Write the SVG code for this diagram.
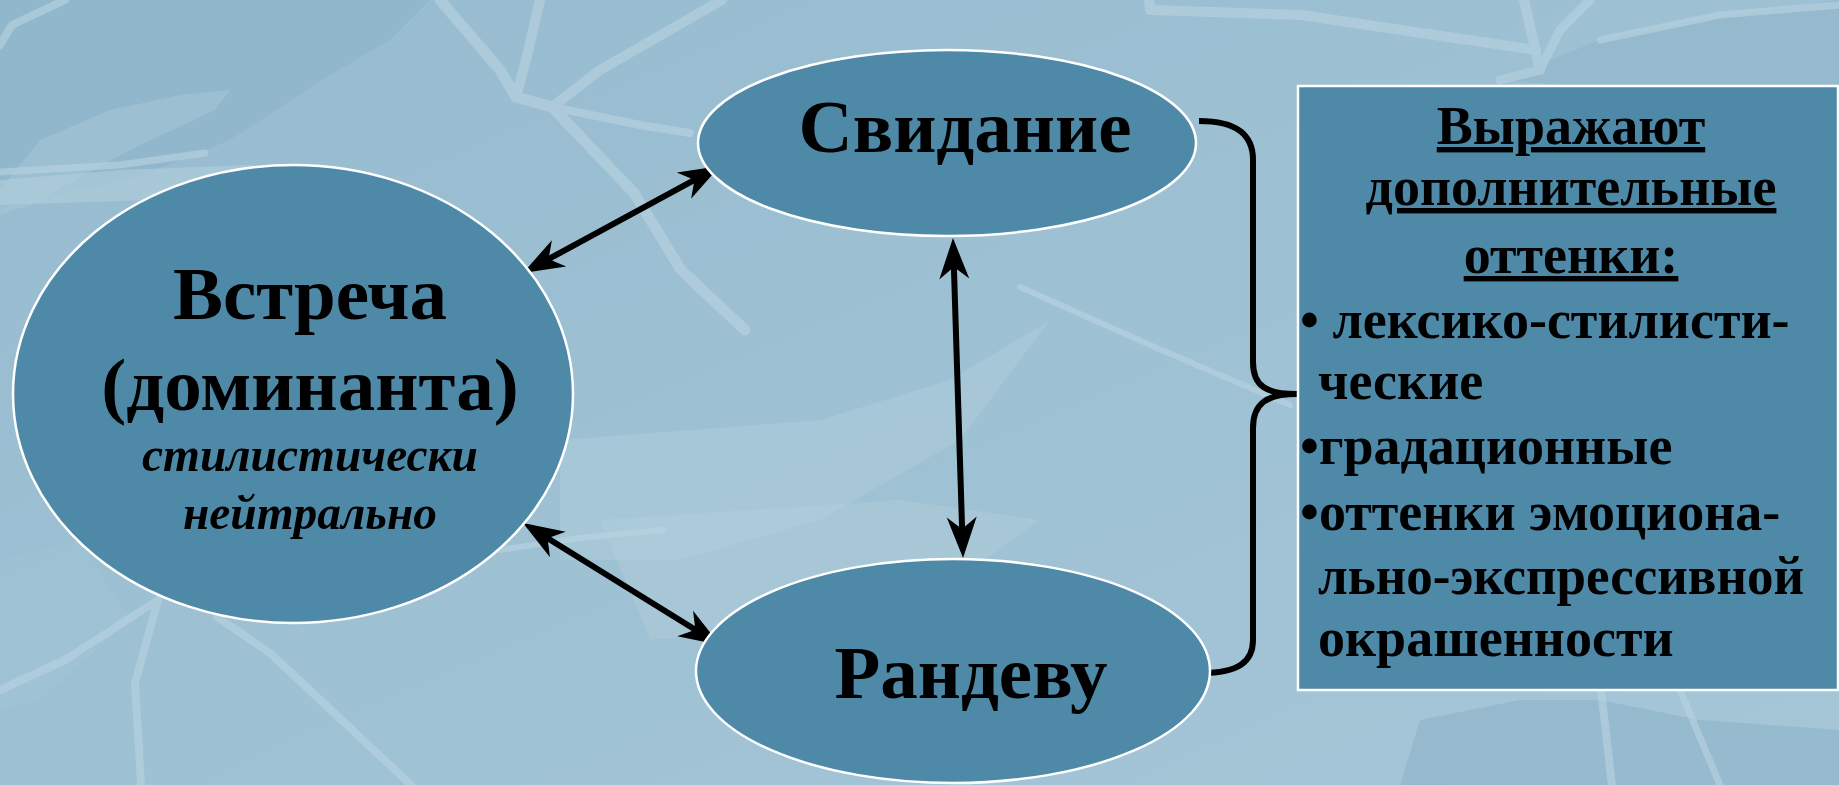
<svg xmlns="http://www.w3.org/2000/svg" width="1839" height="785" viewBox="0 0 1839 785">
<style>
.node{fill:#4f89a8;stroke:#ffffff;stroke-width:2.5}
.t{font-family:"Liberation Serif","Times New Roman",serif;font-weight:bold;fill:#000}
.big{font-size:75px}
.it{font-size:49px;font-style:italic}
.box{font-size:54px}
.conn{stroke:#000;stroke-width:6;fill:none}
.streak{fill:none;stroke:#b9d4e1;stroke-linecap:round;stroke-linejoin:round}
</style>
<defs>
<marker id="ah" markerUnits="userSpaceOnUse" viewBox="-24 -17 46 34" refX="0" refY="0" markerWidth="46" markerHeight="34" orient="auto-start-reverse">
<path d="M20,0 L-21,-15 L-9,0 L-21,15 Z" fill="#000"/>
</marker>
<linearGradient id="bg" x1="0" y1="0" x2="1" y2="1">
<stop offset="0" stop-color="#97bbcf"/>
<stop offset="0.45" stop-color="#9dc0d3"/>
<stop offset="1" stop-color="#a5c6d7"/>
</linearGradient>
</defs>
<rect x="0" y="0" width="1839" height="785" fill="url(#bg)"/>
<g id="background">
<polygon points="0,0 430,0 390,40 330,75 230,140 130,180 30,200 0,210" fill="#8fb5ca" opacity="0.7"/>
<polygon points="0,190 40,140 110,110 180,95 230,90 215,110 130,150 30,205 0,215" fill="#a8c8d8" opacity="0.5"/>
<polygon points="0,205 150,200 230,190 300,180 250,165 120,170 0,180" fill="#b0cedc" opacity="0.6"/>
<polygon points="560,440 820,420 950,380 1000,350 1050,320 960,440 820,520 680,560 560,560" fill="#afcddb" opacity="0.5"/>
<polygon points="600,520 900,500 1040,520 900,620 650,640" fill="#b3d0dd" opacity="0.4"/>
<polygon points="1500,80 1600,40 1700,20 1839,0 1839,90 1680,95" fill="#8fb5ca" opacity="0.6"/>
<polygon points="1400,785 1420,720 1520,700 1600,700 1700,720 1839,730 1839,785" fill="#8db2c8" opacity="0.6"/>
<polygon points="0,560 80,540 130,620 40,700 0,710" fill="#a2c4d5" opacity="0.5"/>
<g opacity="0.6">
<polyline class="streak" stroke-width="11" points="440,0 500,70 516,97 552,107 634,193 681,270 745,330"/>
<polyline class="streak" stroke-width="10" points="540,0 526,60 516,97"/>
<polyline class="streak" stroke-width="10" points="722,0 600,70 552,107"/>
<polyline class="streak" stroke-width="8" points="552,107 640,125 690,133"/>
<polyline class="streak" stroke-width="8" points="65,0 12,25 0,45"/>
<polyline class="streak" stroke-width="7" points="0,172 120,165 205,153"/>
<polyline class="streak" stroke-width="10" points="1149,0 1150,10 1301,15 1448,37 1536,50"/>
<polyline class="streak" stroke-width="10" points="1524,0 1540,70"/>
<polyline class="streak" stroke-width="9" points="1590,0 1560,30 1540,70 1500,80"/>
<polyline class="streak" stroke-width="7" points="1600,40 1720,15 1839,5"/>
<polyline class="streak" stroke-width="6" stroke="#bcc8dc" points="1020,287 1150,345 1290,405"/>
<polyline class="streak" stroke-width="8" points="158,600 135,683 141,785"/>
<polyline class="streak" stroke-width="8" points="158,600 65,660 0,690"/>
<polyline class="streak" stroke-width="8" points="217,617 270,653 411,785"/>
<polyline class="streak" stroke-width="6" stroke="#bec7db" points="499,550 580,538 663,530"/>
<polyline class="streak" stroke-width="8" points="1601,690 1612,785"/>
<polyline class="streak" stroke-width="7" points="1680,690 1720,785"/>
</g>
</g>
<g id="connectors">
<line class="conn" x1="540.6" y1="263.4" x2="702.4" y2="175.6" marker-start="url(#ah)" marker-end="url(#ah)"/>
<line class="conn" x1="540" y1="533.5" x2="703" y2="634.5" marker-start="url(#ah)" marker-end="url(#ah)"/>
<line class="conn" x1="953.6" y1="258" x2="962.4" y2="538" marker-start="url(#ah)" marker-end="url(#ah)"/>
<path class="conn" d="M1199,121 C1236,121 1253,134 1253,160 L1253,362 C1253,386 1266,394 1297,394 C1266,394 1253,404 1253,428 L1253,640 C1253,662 1238,673 1202,673"/>
</g>
<g id="node-vstrecha">
<ellipse class="node" cx="293" cy="394" rx="280" ry="229"/>
<text class="t big" x="310" y="319" text-anchor="middle">Встреча</text>
<text class="t big" x="310" y="410" text-anchor="middle">(доминанта)</text>
<text class="t it" x="310" y="471" text-anchor="middle" textLength="336" lengthAdjust="spacingAndGlyphs">стилистически</text>
<text class="t it" x="310" y="529" text-anchor="middle" textLength="254" lengthAdjust="spacingAndGlyphs">нейтрально</text>
</g>
<g id="node-svidanie">
<ellipse class="node" cx="947" cy="143" rx="249" ry="93"/>
<text class="t big" x="965" y="152" text-anchor="middle">Свидание</text>
</g>
<g id="node-randevu">
<ellipse class="node" cx="953" cy="671" rx="257" ry="112"/>
<text class="t big" x="971" y="698" text-anchor="middle">Рандеву</text>
</g>
<g id="node-box">
<rect x="1298" y="86" width="540" height="604" fill="#4f89a8" stroke="#ffffff" stroke-width="2.5"/>
<text class="t box" x="1571" y="144" text-anchor="middle" text-decoration="underline">Выражают</text>
<text class="t box" x="1571" y="205" text-anchor="middle" text-decoration="underline">дополнительные</text>
<text class="t box" x="1571" y="273" text-anchor="middle" text-decoration="underline">оттенки:</text>
<text class="t box" x="1300" y="338">• лексико-стилисти-</text>
<text class="t box" x="1318" y="399">ческие</text>
<text class="t box" x="1300" y="464">•градационные</text>
<text class="t box" x="1300" y="530">•оттенки эмоциона-</text>
<text class="t box" x="1318" y="594" textLength="486" lengthAdjust="spacingAndGlyphs">льно-экспрессивной</text>
<text class="t box" x="1318" y="656">окрашенности</text>
</g>
</svg>
